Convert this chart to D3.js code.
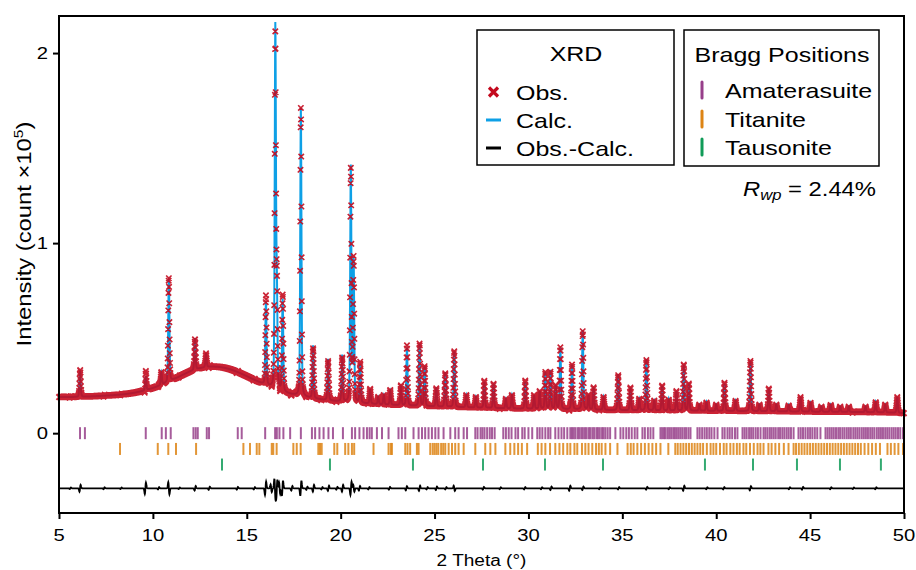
<!DOCTYPE html>
<html>
<head>
<meta charset="utf-8">
<script src="https://cdn.jsdelivr.net/npm/d3@7"></script>
<style>
  body { margin: 0; background: #fff; }
  svg text { font-family: "Liberation Sans", Arial, sans-serif; }
</style>
</head>
<body>
<div id="chart"></div>
<script>
// Chart data
// ================================
// Background (count x10^5) at every whole degree from 5 to 50
var bgDeg = [5, 50];
var bgLevel = [0.19, 0.19, 0.195, 0.2, 0.21, 0.235, 0.275, 0.33, 0.355, 0.345,
  0.3, 0.25, 0.21, 0.19, 0.175, 0.165, 0.158, 0.152, 0.147, 0.143,
  0.14, 0.137, 0.135, 0.132, 0.13, 0.128, 0.128, 0.125, 0.125, 0.122,
  0.12, 0.12, 0.12, 0.118, 0.118, 0.117, 0.117, 0.115, 0.115, 0.114,
  0.113, 0.112, 0.112, 0.11, 0.11, 0.105];

// Peak positions (2 theta) and their top intensity
var peakPos = [6.12, 9.62, 10.45, 10.85, 12.24, 12.83, 16.02, 16.52, 16.6, 16.91,
  17.88, 18.53, 19.33, 20.08, 20.54, 20.69, 21.04, 21.57, 22.0, 22.3,
  22.64, 23.21, 23.53, 24.2, 24.47, 25.09, 25.57, 26.05, 26.69, 27.2,
  27.65, 28.14, 28.8, 29.12, 29.83, 30.3, 30.6, 30.9, 31.17, 31.45,
  31.7, 32.32, 32.89, 33.2, 33.47, 34.0, 34.78, 35.43, 35.9, 36.28,
  36.7, 37.12, 37.47, 37.88, 38.27, 38.54, 39.1, 39.48, 40.0, 40.44,
  41.03, 41.82, 42.3, 42.8, 43.2, 43.86, 44.49, 45.02, 45.6, 46.09,
  46.6, 47.06, 47.95, 48.49, 49.0, 49.64];
var peakTop = [0.33, 0.3, 0.32, 0.815, 0.5, 0.42, 0.69, 2.12, 0.72, 0.7,
  1.71, 0.46, 0.39, 0.41, 1.4, 0.9, 0.36, 0.23, 0.19, 0.2,
  0.22, 0.25, 0.45, 0.47, 0.35, 0.24, 0.32, 0.43, 0.2, 0.19,
  0.27, 0.26, 0.18, 0.2, 0.27, 0.2, 0.22, 0.32, 0.33, 0.25,
  0.45, 0.36, 0.54, 0.2, 0.24, 0.19, 0.31, 0.24, 0.18, 0.39,
  0.17, 0.25, 0.18, 0.22, 0.36, 0.26, 0.15, 0.165, 0.15, 0.26,
  0.17, 0.38, 0.15, 0.235, 0.15, 0.15, 0.19, 0.16, 0.14, 0.15,
  0.14, 0.14, 0.14, 0.165, 0.15, 0.19];

// Residual features (Obs.-Calc.): position and amplitude
var resPos = [5.6, 6.12, 7.4, 8.3, 9.6, 10.3, 10.85, 11.4, 12.25, 13.0,
  14.5, 15.4, 16.0, 16.3, 16.5, 16.6, 16.75, 16.9, 17.4, 17.88,
  18.2, 18.55, 19.0, 19.35, 19.8, 20.1, 20.55, 20.7, 21.0, 21.5,
  22.6, 23.5, 24.2, 24.6, 25.1, 25.6, 26.05, 27.6, 28.5, 29.8,
  30.7, 31.2, 32.2, 32.9, 33.8, 34.8, 36.3, 37.5, 38.27, 39.5,
  40.4, 41.82, 43.9, 44.6, 46.1, 47.3, 48.5];
var resAmp = [0.004, 0.018, 0.005, 0.004, 0.03, 0.006, -0.032, 0.004, 0.012, 0.008,
  0.007, 0.006, 0.035, -0.02, -0.05, 0.045, -0.03, 0.04, 0.012, 0.04,
  0.008, 0.018, 0.006, 0.014, 0.007, 0.018, 0.035, -0.018, 0.012, 0.006,
  0.007, 0.011, 0.014, 0.006, 0.009, 0.006, -0.014, 0.007, 0.005, 0.006,
  0.005, 0.009, 0.013, 0.009, 0.005, 0.006, 0.007, 0.005, 0.013, 0.005,
  0.006, 0.011, 0.005, 0.007, 0.005, 0.004, 0.005];

// Bragg positions of the three phases
var amaterasuite = [6.12, 6.38, 9.62, 10.47, 10.69, 10.95, 12.16, 12.28, 12.39, 12.87,
  12.99, 14.52, 14.73, 15.98, 16.51, 16.6, 16.74, 16.95, 17.31, 17.88,
  18.47, 18.64, 18.87, 19.09, 19.35, 19.59, 20.12, 20.6, 20.77, 21.0,
  21.22, 21.4, 21.54, 21.66, 21.93, 22.2, 22.55, 23.08, 23.26, 23.44,
  23.88, 24.15, 24.33, 24.5, 24.68, 24.86, 25.04, 25.21, 25.48, 25.84,
  26.1, 26.28, 26.55, 26.73, 27.17, 27.29, 27.45, 27.55, 27.66, 27.8,
  27.94, 28.06, 28.2, 28.66, 28.8, 28.95, 29.1, 29.31, 29.45, 29.67,
  29.8, 30.0, 30.2, 30.47, 30.6, 30.74, 30.9, 31.05, 31.17, 31.43,
  31.6, 31.76, 31.9, 32.07, 32.23, 32.32, 32.41, 32.5, 32.62, 32.7,
  32.81, 32.9, 33.01, 33.1, 33.22, 33.3, 33.41, 33.5, 33.62, 33.7,
  33.8, 33.92, 34.0, 34.1, 34.22, 34.35, 34.63, 34.9, 35.05, 35.21,
  35.35, 35.5, 35.66, 35.8, 36.07, 36.2, 36.36, 36.5, 36.65, 37.03,
  37.12, 37.22, 37.3, 37.41, 37.5, 37.6, 37.71, 37.8, 37.9, 38.0,
  38.1, 38.2, 38.31, 38.4, 38.52, 38.63, 39.0, 39.12, 39.25, 39.38,
  39.5, 39.63, 39.75, 39.9, 40.07, 40.33, 40.45, 40.6, 40.72, 40.85,
  41.0, 41.13, 41.4, 41.51, 41.62, 41.75, 41.86, 41.97, 42.1, 42.22,
  42.36, 42.52, 42.62, 42.73, 42.85, 42.95, 43.06, 43.17, 43.3, 43.4,
  43.52, 43.63, 43.75, 43.86, 43.98, 44.12, 44.38, 44.5, 44.62, 44.75,
  44.88, 45.0, 45.12, 45.25, 45.38, 45.55, 45.82, 45.93, 46.04, 46.15,
  46.26, 46.38, 46.5, 46.6, 46.72, 46.83, 46.95, 47.06, 47.17, 47.3,
  47.41, 47.52, 47.63, 47.75, 47.86, 47.97, 48.08, 48.2, 48.31, 48.42,
  48.55, 48.66, 48.77, 48.88, 49.0, 49.11, 49.22, 49.34, 49.45, 49.56,
  49.68, 49.8, 49.95];
var titanite = [8.25, 10.26, 10.82, 11.23, 12.3, 14.82, 15.17, 15.53, 15.67, 16.33,
  16.41, 16.59, 17.48, 17.66, 17.87, 18.81, 18.9, 18.99, 19.66, 19.82,
  20.24, 20.41, 20.6, 20.72, 21.75, 22.55, 22.67, 22.73, 23.44, 23.56,
  23.7, 24.06, 24.15, 24.77, 24.9, 25.0, 25.1, 25.2, 25.35, 25.46,
  25.57, 25.75, 25.93, 26.1, 26.28, 26.55, 27.17, 27.7, 27.97, 28.24,
  28.77, 29.03, 29.25, 29.45, 29.65, 29.93, 30.5, 30.7, 30.9, 31.15,
  31.43, 31.65, 31.85, 32.07, 32.23, 32.45, 32.6, 32.85, 33.03, 33.2,
  33.4, 33.6, 33.75, 33.9, 34.1, 34.35, 34.74, 35.28, 35.45, 35.6,
  35.8, 36.0, 36.2, 36.4, 36.6, 36.8, 37.03, 37.45, 37.82, 37.95,
  38.1, 38.25, 38.4, 38.55, 38.7, 38.85, 39.0, 39.15, 39.3, 39.5,
  39.7, 39.85, 40.0, 40.2, 40.4, 40.55, 40.75, 40.92, 41.1, 41.25,
  41.45, 41.6, 41.8, 42.0, 42.2, 42.35, 42.52, 42.78, 42.95, 43.15,
  43.35, 43.6, 43.85, 44.12, 44.25, 44.4, 44.55, 44.7, 44.85, 45.0,
  45.15, 45.3, 45.45, 45.6, 45.75, 45.9, 46.05, 46.2, 46.35, 46.5,
  46.65, 46.8, 46.95, 47.1, 47.25, 47.4, 47.55, 47.7, 47.9, 48.1,
  48.3, 48.5, 48.72, 49.12, 49.3, 49.5, 49.7, 49.95];
var tausonite = [13.68, 19.43, 23.85, 27.58, 30.88, 33.97, 39.4, 41.96, 44.3, 46.59, 48.77];

var xTicks = [5, 10, 15, 20, 25, 30, 35, 40, 45, 50];
var yTicks = [0, 1, 2];

// Section 1: canvas and scales
// ============================
var width = 916;
var height = 570;
var mLeft = 59, mRight = 904, mTop = 16, mBottom = 513;
// the text in the picture is drawn a bit wide
var stretch = 1.19;

var svg = d3.select("#chart")
  .append("svg")
  .attr("width", width)
  .attr("height", height);

var xScale = d3.scaleLinear().domain([5, 50]).range([mLeft, mRight]);
var yScale = d3.scaleLinear().domain([-0.42, 2.195]).range([mBottom, mTop]);

// small helper: text placed at (x, y), widened by the stretch factor
function wideText(parent, x, y, size, anchor, rotate) {
  var g = parent.append("g")
    .attr("transform", "translate(" + x + "," + y + ")" + (rotate ? "rotate(-90)" : "") + "scale(" + stretch + ",1)");
  return g.append("text")
    .attr("text-anchor", anchor)
    .attr("font-size", size)
    .attr("fill", "#000");
}

// Section 2: build the profile from the peak list
// ===============================================
var fwhm = 0.075;
var eta = 0.3;
var bgSpline = d3.interpolateBasis(bgLevel);
function bg(t) {
  return bgSpline((t - bgDeg[0]) / (bgDeg[1] - bgDeg[0]));
}
var peakHeight = peakPos.map(function(p, i) { return peakTop[i] - bg(p); });

function calc(t) {
  var v = bg(t);
  for (var i = 0; i < peakPos.length; i++) {
    var u = (t - peakPos[i]) / fwhm;
    if (Math.abs(u) > 40) continue;
    var lor = 1 / (1 + 4 * u * u);
    var gau = Math.exp(-4 * Math.LN2 * u * u);
    v += peakHeight[i] * (eta * lor + (1 - eta) * gau);
  }
  return v;
}
function resid(t) {
  var v = 0;
  for (var i = 0; i < resPos.length; i++) {
    var u = (t - resPos[i]) / 0.03;
    if (Math.abs(u) > 8) continue;
    v += resAmp[i] * u * Math.exp(0.5 - 0.5 * u * u);
  }
  return v;
}

var pts = [];
for (var i = 0; i <= 4500; i++) {
  var t = 5 + i / 100;
  var c = calc(t);
  var d = resid(t);
  pts.push({ t: t, calc: c, obs: c + d, diff: d });
}
var diffOffset = -0.29;

// Section 3: marks
// ================
// Bragg ticks
var braggRows = [
  { data: amaterasuite, color: "#973f8a", y: 0 },
  { data: titanite, color: "#dd8414", y: -0.083 },
  { data: tausonite, color: "#109b58", y: -0.165 }
];
braggRows.forEach(function(row) {
  svg.append("g")
    .selectAll("line")
    .data(row.data)
    .enter()
    .append("line")
    .attr("x1", function(d) { return xScale(d); })
    .attr("x2", function(d) { return xScale(d); })
    .attr("y1", yScale(row.y) - 6)
    .attr("y2", yScale(row.y) + 6)
    .attr("stroke", row.color)
    .attr("stroke-width", 2)
    .attr("stroke-opacity", 0.85);
});

// Difference curve
svg.append("path")
  .datum(pts)
  .attr("fill", "none")
  .attr("stroke", "#000")
  .attr("stroke-width", 1.8)
  .attr("d", d3.line()
    .x(function(d) { return xScale(d.t); })
    .y(function(d) { return yScale(d.diff + diffOffset); }));

// Calculated profile
svg.append("path")
  .datum(pts)
  .attr("fill", "none")
  .attr("stroke", "#0ea0e6")
  .attr("stroke-width", 2)
  .attr("d", d3.line()
    .x(function(d) { return xScale(d.t); })
    .y(function(d) { return yScale(d.calc); }));

// Observed points as small crosses
var s = 2.7;
var crossPath = pts.map(function(d) {
  var px = xScale(d.t), py = yScale(d.obs);
  var a = (px - s).toFixed(2), b = (px + s).toFixed(2);
  var c1 = (py - s).toFixed(2), c2 = (py + s).toFixed(2);
  return "M" + a + "," + c1 + "L" + b + "," + c2 + "M" + a + "," + c2 + "L" + b + "," + c1;
}).join("");
svg.append("path")
  .attr("d", crossPath)
  .attr("fill", "none")
  .attr("stroke", "#c40a1e")
  .attr("stroke-width", 1.6)
  .attr("stroke-opacity", 0.9);

// Section 4: axes and frame
// =========================
var xAxis = d3.axisBottom(xScale).tickValues(xTicks).tickSize(6).tickSizeOuter(0).tickFormat("");
var yAxis = d3.axisLeft(yScale).tickValues(yTicks).tickSize(6).tickSizeOuter(0).tickFormat("");

var gx = svg.append("g")
  .attr("transform", "translate(0," + mBottom + ")")
  .call(xAxis);
var gy = svg.append("g")
  .attr("transform", "translate(" + mLeft + ",0)")
  .call(yAxis);
[gx, gy].forEach(function(g) {
  g.selectAll("line").attr("stroke-width", 2);
  g.select(".domain").remove();
});

// tick labels, drawn wide like the picture
xTicks.forEach(function(v) {
  wideText(svg, xScale(v), 541, 17, "middle").text(v);
});
yTicks.forEach(function(v) {
  wideText(svg, 48, yScale(v) + 6, 17, "end").text(v);
});

svg.append("rect")
  .attr("x", mLeft)
  .attr("y", mTop)
  .attr("width", mRight - mLeft)
  .attr("height", mBottom - mTop)
  .attr("fill", "none")
  .attr("stroke", "#000")
  .attr("stroke-width", 2);

// Axis titles
wideText(svg, (mLeft + mRight) / 2, 566, 16, "middle").text("2 Theta (°)");

var yTitle = wideText(svg, 31, 234, 20, "middle", true);
yTitle.append("tspan").text("Intensity (count ×10");
yTitle.append("tspan").attr("dy", -8).attr("font-size", 13).text("5");
yTitle.append("tspan").attr("dy", 8).text(")");

// Section 5: legends
// ==================
var lg1 = svg.append("g");
lg1.append("rect")
  .attr("x", 477).attr("y", 30).attr("width", 197).attr("height", 135)
  .attr("fill", "#fff").attr("stroke", "#000").attr("stroke-width", 1.5);
wideText(lg1, 576, 61, 21, "middle").text("XRD");
var items1 = [
  { label: "Obs.", y: 92, type: "cross", color: "#c40a1e" },
  { label: "Calc.", y: 120, type: "line", color: "#0ea0e6" },
  { label: "Obs.-Calc.", y: 148, type: "line", color: "#000" }
];
items1.forEach(function(it) {
  if (it.type === "cross") {
    lg1.append("path")
      .attr("d", "M489," + (it.y - 4.5) + "L498," + (it.y + 4.5) +
        "M489," + (it.y + 4.5) + "L498," + (it.y - 4.5))
      .attr("stroke", it.color).attr("stroke-width", 3.2);
  } else {
    lg1.append("line")
      .attr("x1", 486).attr("x2", 501).attr("y1", it.y).attr("y2", it.y)
      .attr("stroke", it.color).attr("stroke-width", 3);
  }
  wideText(lg1, 516, it.y + 7.5, 21, "start").text(it.label);
});

var lg2 = svg.append("g");
lg2.append("rect")
  .attr("x", 684).attr("y", 30).attr("width", 195).attr("height", 136)
  .attr("fill", "#fff").attr("stroke", "#000").attr("stroke-width", 1.5);
wideText(lg2, 782, 62, 21, "middle").text("Bragg Positions");
var items2 = [
  { label: "Amaterasuite", y: 90, color: "#973f8a" },
  { label: "Titanite", y: 119, color: "#dd8414" },
  { label: "Tausonite", y: 147, color: "#109b58" }
];
items2.forEach(function(it) {
  lg2.append("line")
    .attr("x1", 702).attr("x2", 702).attr("y1", it.y - 8).attr("y2", it.y + 8)
    .attr("stroke", it.color).attr("stroke-width", 3).attr("stroke-linecap", "round");
  wideText(lg2, 725, it.y + 8, 21, "start").text(it.label);
});

var rwp = wideText(svg, 876, 196, 20, "end");
rwp.append("tspan").attr("font-style", "italic").text("R");
rwp.append("tspan").attr("font-style", "italic").attr("font-size", 14).attr("dy", 4).text("wp");
rwp.append("tspan").attr("dy", -4).text(" = 2.44%");
</script>
</body>
</html>
